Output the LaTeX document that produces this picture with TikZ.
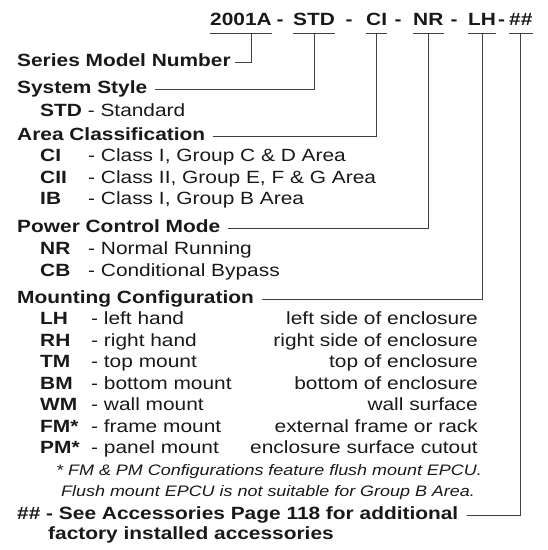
\documentclass[tikz,border=0pt]{standalone}
\usepackage{fontspec}
\setmainfont{Liberation Sans}[FakeStretch=1.18]
\begin{document}
\begin{tikzpicture}[x=1pt,y=-1pt]
\tikzset{
 ln/.style={draw=black!75, line width=0.8pt},
 hd/.style={anchor=base west, inner sep=0pt, text=black!90, font=\bfseries\fontsize{17.7}{21}\selectfont},
 cd/.style={anchor=base west, inner sep=0pt, text=black!90, font=\bfseries\fontsize{17.7}{21}\selectfont},
 it/.style={anchor=base west, inner sep=0pt, text=black!90, font=\fontsize{17.7}{21}\selectfont},
 rt/.style={anchor=base east, inner sep=0pt, text=black!90, font=\fontsize{17.7}{21}\selectfont},
 fn/.style={anchor=base west, inner sep=0pt, text=black!90, font=\itshape\fontsize{15.2}{19}\selectfont},
 dsh/.style={anchor=base, inner sep=0pt, text=black!90, font=\bfseries\fontsize{17.7}{21}\selectfont},
}
\useasboundingbox (0,0) rectangle (548,550);
% header
\node[hd] (h1) at (210,25) {2001A};
\node[hd] (h2) at (293,25) {STD};
\node[hd] (h3) at (366,25) {CI};
\node[hd] (h4) at (413,25) {NR};
\node[hd] (h5) at (468,25) {LH};
\node[hd] (h6) at (509,25) {\#\#};
\node[dsh] (d1) at (280,25) {-};
\node[dsh] (d2) at (349,25) {-};
\node[dsh] (d3) at (398,25) {-};
\node[dsh] (d4) at (454,25) {-};
\node[dsh] (d5) at (501.5,25) {-};
\foreach \n in {h1,h2,h3,h4,h5,h6}
  \draw[ln] ([yshift=-8pt]\n.base west) -- ([yshift=-8pt]\n.base east);
% headings and items
\node[hd] (sm) at (17,66) {Series Model Number};
\node[hd] (ss) at (17,93) {System Style};
\node[it] (std) at (40,116) {\textbf{STD} - Standard};
\node[hd] (ac) at (17,140) {Area Classification};
\node[cd] (c1) at (40,161.5) {CI};
\node[it] (c1d) at (88,161.5) {- Class I, Group C \& D Area};
\node[cd] (c2) at (40,183) {CII};
\node[it] (c2d) at (88,183) {- Class II, Group E, F \& G Area};
\node[cd] (c3) at (40,204.5) {IB};
\node[it] (c3d) at (88,204.5) {- Class I, Group B Area};
\node[hd] (pc) at (17,232) {Power Control Mode};
\node[cd] (p1) at (40,254) {NR};
\node[it] (p1d) at (88,254) {- Normal Running};
\node[cd] (p2) at (40,276) {CB};
\node[it] (p2d) at (88,276) {- Conditional Bypass};
\node[hd] (mc) at (17,303) {Mounting Configuration};
\node[cd] (m1) at (40,324.5) {LH};
\node[it] (m1d) at (91,324.5) {- left hand};
\node[rt] (m1r) at (478,324.5) {left side of enclosure};
\node[cd] (m2) at (40,346) {RH};
\node[it] (m2d) at (91,346) {- right hand};
\node[rt] (m2r) at (478,346) {right side of enclosure};
\node[cd] (m3) at (40,367.5) {TM};
\node[it] (m3d) at (91,367.5) {- top mount};
\node[rt] (m3r) at (478,367.5) {top of enclosure};
\node[cd] (m4) at (40,389) {BM};
\node[it] (m4d) at (91,389) {- bottom mount};
\node[rt] (m4r) at (478,389) {bottom of enclosure};
\node[cd] (m5) at (40,410.5) {WM};
\node[it] (m5d) at (91,410.5) {- wall mount};
\node[rt] (m5r) at (478,410.5) {wall surface};
\node[cd] (m6) at (40,432) {FM*};
\node[it] (m6d) at (91,432) {- frame mount};
\node[rt] (m6r) at (478,432) {external frame or rack};
\node[cd] (m7) at (40,453.5) {PM*};
\node[it] (m7d) at (91,453.5) {- panel mount};
\node[rt] (m7r) at (478,453.5) {enclosure surface cutout};
\node[fn] (f1) at (56,475) {* FM \& PM Configurations feature flush mount EPCU.};
\node[fn] (f2) at (61,496.5) {Flush mount EPCU is not suitable for Group B Area.};
\node[hd] (ac1) at (17,519) {\#\# - See Accessories Page 118 for additional};
\node[hd] (ac2) at (48,539) {factory installed accessories};
% connectors
\draw[ln] ([xshift=10pt,yshift=-8pt]h1.base) |- ([xshift=4pt,yshift=4pt]sm.base east);
\draw[ln] ([yshift=-8pt]h2.base) |- ([xshift=8pt,yshift=4pt]ss.base east);
\draw[ln] ([yshift=-8pt]h3.base) |- ([xshift=8pt,yshift=4pt]ac.base east);
\draw[ln] ([yshift=-8pt]h4.base) |- ([xshift=8pt,yshift=4pt]pc.base east);
\draw[ln] ([yshift=-8pt]h5.base) |- ([xshift=8pt,yshift=4pt]mc.base east);
\draw[ln] ([yshift=-8pt]h6.base) |- ([xshift=8pt,yshift=4pt]ac1.base east);
\end{tikzpicture}
\end{document}
